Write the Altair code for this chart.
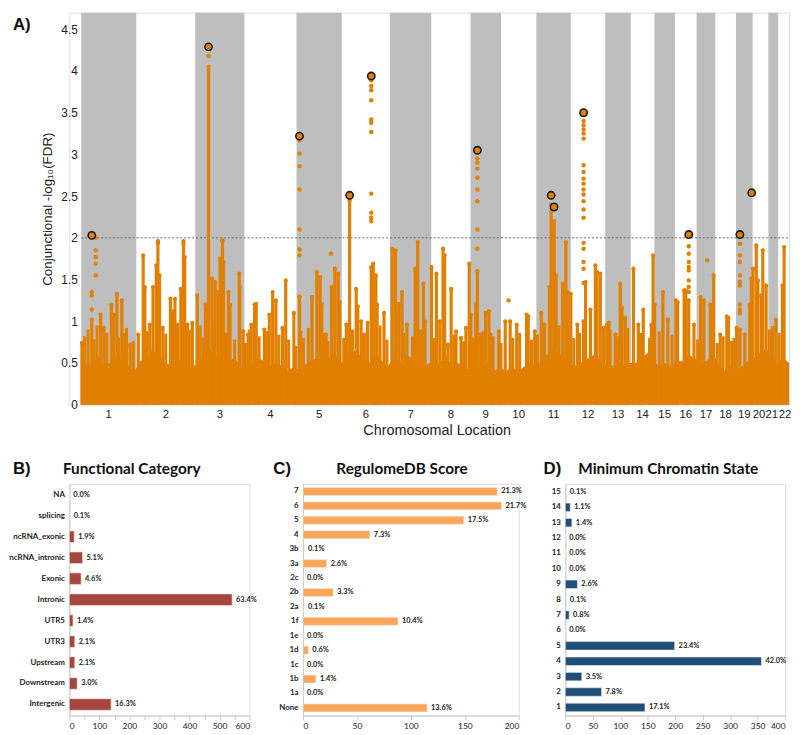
import altair as alt
import pandas as pd

ORANGE = "#E07F00"

# ---------------- Panel A data ----------------
chrom_names = [str(i) for i in range(1, 23)]
chrom_widths = [56, 60, 50, 53, 46, 49, 42, 40, 31, 36, 35, 35, 26, 24, 21, 22, 19, 21, 17, 16, 10, 11]

# dense background level (genome position units, -log10 FDR)
forest_pos = [0, 6, 12, 18, 24, 30, 36, 42, 48, 54,
              60, 66, 72, 78, 84, 90, 96, 102, 108, 114,
              120, 126, 132, 138, 144, 150, 156, 162,
              168, 174, 180, 186, 192, 198, 204, 210, 216,
              222, 228, 234, 240, 246, 252, 258, 264,
              270, 276, 282, 288, 294, 300, 306, 312,
              318, 324, 330, 336, 342, 348, 354,
              360, 366, 372, 378, 384, 390, 396,
              402, 408, 414, 420, 426,
              432, 438, 444, 450, 456, 462,
              468, 474, 480, 486, 492, 498,
              504, 510, 516, 522, 528, 534,
              540, 546, 552, 558,
              564, 570, 576, 582,
              588, 594, 600, 606,
              612, 618, 624, 630,
              636, 642, 648,
              654, 660, 666, 672,
              678, 684,
              690, 696, 702,
              708,
              714, 720]
forest_val = [0.62, 0.45, 0.52, 0.56, 0.48, 0.5, 0.6, 0.52, 0.45, 0.4,
              0.52, 0.56, 0.65, 0.62, 0.5, 0.48, 0.56, 0.52, 0.42, 0.46,
              0.52, 0.62, 0.66, 0.56, 0.6, 0.52, 0.56, 0.46,
              0.45, 0.5, 0.56, 0.52, 0.46, 0.5, 0.46, 0.4, 0.45,
              0.42, 0.48, 0.52, 0.56, 0.5, 0.56, 0.6, 0.5,
              0.52, 0.66, 0.6, 0.56, 0.5, 0.62, 0.52, 0.46,
              0.56, 0.5, 0.6, 0.56, 0.5, 0.45, 0.5,
              0.46, 0.52, 0.56, 0.46, 0.5, 0.4, 0.46,
              0.5, 0.45, 0.52, 0.4, 0.45,
              0.4, 0.46, 0.4, 0.45, 0.5, 0.45,
              0.52, 0.6, 0.66, 0.62, 0.56, 0.5,
              0.46, 0.52, 0.56, 0.6, 0.52, 0.46,
              0.46, 0.52, 0.46, 0.5,
              0.5, 0.56, 0.62, 0.52,
              0.46, 0.5, 0.46, 0.52,
              0.52, 0.6, 0.56, 0.5,
              0.52, 0.6, 0.5,
              0.4, 0.46, 0.4, 0.45,
              0.52, 0.56,
              0.62, 0.66, 0.6,
              0.5,
              0.56, 0.5]

# short columns in the dense band
mid_pos = [3.5, 7, 13, 16, 26, 38, 46, 53, 67, 86,
           110, 121, 124, 147, 156, 167, 171, 181, 189, 201,
           211, 226, 231, 247, 251, 267, 276, 286, 304, 311,
           328, 337, 345, 359, 379, 389, 399, 409, 419, 427,
           439, 446, 458, 464, 486, 501, 507, 538, 546, 556,
           569, 578, 588, 601, 627, 647, 653, 664, 700, 710]
mid_top = [0.82, 0.9, 0.78, 0.95, 0.86, 0.8, 0.92, 0.76, 0.88, 0.85,
           0.9, 0.95, 0.8, 0.86, 0.78, 0.74, 0.9, 0.82, 0.88, 0.84,
           0.78, 0.8, 0.92, 0.86, 0.76, 0.8, 0.9, 0.84, 0.95, 0.78,
           0.86, 0.82, 0.9, 0.8, 0.84, 0.76, 0.8, 0.88, 0.82, 0.74,
           0.8, 0.86, 0.78, 0.84, 0.95, 0.8, 0.86, 0.9, 0.82, 0.92,
           0.86, 0.8, 0.88, 0.84, 0.78, 0.74, 0.82, 0.8, 0.9, 0.86]

# columns of SNPs rising above the background
spike_pos = [0.7, 10.7, 19.7, 23, 30.7, 33, 36.3, 41.3, 43, 49.7, 58, 63, 64.7, 69.7, 73, 76.3, 78, 79.7,
             83, 90.7, 93, 95.3, 98, 101.3, 104, 105.3, 108, 113, 118, 126.3, 129.5,
             133, 134.7, 136.3, 139.7, 141.3, 143.7, 144.7, 149.7, 151.3, 160.7, 161.3, 164.7,
             169.7, 173, 176.3, 178, 186.3, 191.3, 194.7, 198, 204.7, 208, 216.3, 218, 222, 223,
             234.7, 239.7, 243, 244.7, 249, 254.7, 258, 261.3, 263, 269.7, 273, 279.7, 281.3,
             284.7, 288, 291.3, 295, 297, 299.7, 301, 308, 316.3, 319.7, 323, 326.3, 331.3,
             339.7, 342.3, 348, 349.7, 356.3, 361.3, 364.7, 368, 369.7, 373, 376.3, 381.3,
             386.3, 391.3, 394.7, 396.3, 401.3, 403, 406.3, 411.3, 414.7, 416.3, 424.7,
             431.3, 436.3, 443, 453, 454.7, 461.3, 468, 471.3, 476.3, 478, 481, 483, 489.7,
             493, 494.7, 498, 504.7, 511, 513, 518, 523, 524.7, 528, 531.3, 534.7,
             536.7, 543.3, 548.3, 550, 553.3, 561.7, 566.7, 571.7, 580, 581.7, 583.3, 591.7,
             596.7, 605, 606.7, 613.3, 615, 618, 623.3, 630, 633.3, 640, 643.3, 650, 656.7,
             658.3, 661.7, 666.7, 670, 675, 680, 681.7, 683.3, 686.7, 688.3, 691.7, 693.3,
             696.7, 703.3, 706.7, 713.3, 715, 717.7]
spike_top = [0.74, 1.02, 1.08, 0.92, 1.2, 1.08, 1.33, 1.25, 0.84, 0.72, 0.84, 1.79, 1.41, 0.96, 1.41, 1.67, 1.96, 1.55,
             0.92, 1.27, 1.12, 1.27, 0.96, 1.39, 1.96, 1.77, 0.96, 0.98, 1.31, 1.2, 4.05,
             1.51, 0.92, 1.47, 1.35, 1.75, 1.96, 1.71, 1.35, 1.2, 1.57, 1.41, 0.88,
             0.84, 0.96, 1.2, 1.21, 0.9, 1.08, 1.35, 1.25, 0.92, 1.49, 1.1, 0.68, 1.3, 0.86,
             1.29, 1.59, 1.53, 1.21, 0.84, 1.41, 1.63, 1.57, 1.23, 0.96, 2.45, 1.39, 1.18,
             1.0, 0.84, 0.98, 1.65, 1.69, 1.55, 1.2, 1.1, 1.87, 1.85, 1.21, 1.35, 0.96,
             1.63, 1.95, 1.45, 1.0, 1.65, 1.57, 1.0, 1.87, 1.79, 0.72, 1.39, 0.88,
             0.8, 0.92, 1.69, 1.08, 1.21, 1.6, 0.84, 1.1, 1.12, 0.84, 0.88,
             1.0, 1.0, 0.96, 1.08, 1.06, 0.88, 1.1, 0.96, 1.41, 2.4, 2.2, 1.55, 1.45,
             1.95, 1.35, 1.33, 0.96, 1.0, 1.47, 1.14, 1.67, 1.59, 1.57, 0.92, 0.96,
             0.98, 0.84, 1.45, 1.16, 1.04, 1.63, 0.96, 1.14, 0.96, 1.79, 1.2, 1.35,
             1.02, 1.25, 1.23, 1.37, 1.37, 1.25, 0.96, 1.29, 1.25, 1.2, 1.55, 0.84, 1.06,
             1.04, 0.74, 0.92, 0.9, 0.84, 1.2, 1.51, 1.63, 1.91, 1.49, 1.31, 1.85,
             1.43, 0.92, 1.02, 1.43, 1.89, 0.49]

# isolated SNPs above their columns
dot_pos = [14.7, 14.7, 14.7, 14.7, 14.7, 10.7, 10.7, 10.7,
           129.5, 104, 78, 143.7,
           222, 222, 222, 222, 222, 222, 222,
           295, 295, 295, 295, 295, 295, 295, 295, 295, 295, 295,
           403, 403, 403, 403, 403, 403, 403, 403,
           511, 511, 511, 511, 511, 511, 511, 511, 511, 511, 511, 511, 511, 511, 511, 511, 511, 511, 511,
           618, 618, 618, 618, 618, 618, 618, 618,
           670, 670, 670, 670, 670, 670, 670, 670, 670,
           434.7, 636.7, 254]
dot_val = [2.0, 1.85, 1.77, 1.69, 1.55, 1.35, 1.31, 1.14,
           4.18, 1.93, 1.94, 1.97,
           3.17, 3.01, 2.86, 2.58, 2.1, 1.86, 1.79,
           3.89, 3.82, 3.77, 3.65, 3.42, 3.38, 3.27, 2.53, 2.3, 2.24, 2.2,
           2.95, 2.9, 2.83, 2.72, 2.58, 2.44, 2.1, 1.87,
           3.4, 3.35, 3.3, 3.25, 3.19, 2.87, 2.79, 2.71, 2.65, 2.58, 2.52, 2.44, 2.34, 2.24, 1.94, 1.87, 1.71, 1.63, 1.46,
           1.9, 1.81, 1.71, 1.65, 1.61, 1.49, 1.41, 1.35,
           1.93, 1.79, 1.71, 1.55, 1.47, 1.43, 1.2, 1.14, 1.1,
           1.25, 1.73, 1.81]

# lead SNPs (outlined)
lead_pos = [10.7, 129.5, 222, 273, 295, 403, 478, 481, 511, 618, 670, 682]
lead_val = [2.03, 4.29, 3.22, 2.51, 3.94, 3.05, 2.51, 2.37, 3.5, 2.04, 2.04, 2.54]

threshold = [2.0]
y_ticks = [0, 0.5, 1, 1.5, 2, 2.5, 3, 3.5, 4, 4.5]

# ---------------- Panels B-D data ----------------
func_cats = ["NA", "splicing", "ncRNA_exonic", "ncRNA_intronic", "Exonic", "Intronic",
             "UTR5", "UTR3", "Upstream", "Downstream", "Intergenic"]
func_counts = [0, 1, 16, 44, 39, 542, 12, 18, 18, 26, 139]
func_pcts = ["0.0%", "0.1%", "1.9%", "5.1%", "4.6%", "63.4%", "1.4%", "2.1%", "2.1%", "3.0%", "16.3%"]

reg_cats = ["7", "6", "5", "4", "3b", "3a", "2c", "2b", "2a", "1f", "1e", "1d", "1c", "1b", "1a", "None"]
reg_counts = [180, 184, 149, 62, 1, 22, 0, 28, 1, 88, 0, 5, 0, 12, 0, 115]
reg_pcts = ["21.3%", "21.7%", "17.5%", "7.3%", "0.1%", "2.6%", "0.0%", "3.3%", "0.1%", "10.4%",
            "0.0%", "0.6%", "0.0%", "1.4%", "0.0%", "13.6%"]

state_cats = ["15", "14", "13", "12", "11", "10", "9", "8", "7", "6", "5", "4", "3", "2", "1"]
state_counts = [1, 9, 12, 0, 0, 0, 22, 1, 7, 0, 199, 357, 30, 66, 145]
state_pcts = ["0.1%", "1.1%", "1.4%", "0.0%", "0.0%", "0.0%", "2.6%", "0.1%", "0.8%", "0.0%",
              "23.4%", "42.0%", "3.5%", "7.8%", "17.1%"]

# ---------------- Panel A ----------------
LEFT = 57          # room left of every panel's origin (letters / labels)
A_W, A_H = 727, 396
A_GAP = 12         # empty strip between panel origin and first chromosome
total_units = sum(chrom_widths)
starts, s = [], 0
for w in chrom_widths:
    starts.append(s)
    s += w
chr_df = pd.DataFrame({
    "name": chrom_names,
    "start": starts,
    "end": [a + w for a, w in zip(starts, chrom_widths)],
    "mid": [a + w / 2 for a, w in zip(starts, chrom_widths)],
    "odd": [i % 2 == 0 for i in range(len(chrom_names))],
})
x_lo = -A_GAP * total_units / (A_W - A_GAP)
xs = alt.Scale(domain=[x_lo, total_units], nice=False, zero=False, padding=0)
ys = alt.Scale(domain=[0, 4.7], nice=False)
y_axis = alt.Axis(title="Conjunctional -log\u2081\u2080(FDR)", values=y_ticks, format="~g", ticks=False,
                  domain=False, grid=False, labelFontSize=12, labelColor="#222", labelPadding=4,
                  labelFont="Liberation Sans", titleFont="Liberation Sans", titleFontSize=13.5,
                  titleFontWeight="normal", titleColor="#222", titlePadding=6, offset=-A_GAP)


def X(field):
    return alt.X(field, scale=xs, axis=None)


def Y(field):
    return alt.Y(field, scale=ys, axis=y_axis)


bands = alt.Chart(chr_df).transform_filter("datum.odd").mark_rect(color="#BEBEBE").encode(
    x=X("start:Q"), x2="end:Q", y=alt.value(0), y2=alt.value(A_H))

thr_df = pd.DataFrame({"t": threshold, "x0": [0], "x1": [total_units]})
thr = alt.Chart(thr_df).mark_rule(
    color="#666", strokeDash=[2, 2], strokeWidth=1).encode(
    y=Y("t:Q"), x=X("x0:Q"), x2="x1:Q")

forest = alt.Chart(pd.DataFrame({"u": forest_pos, "v": forest_val})).mark_area(
    color=ORANGE, interpolate="linear").encode(x=X("u:Q"), y=Y("v:Q"))

mids = alt.Chart(pd.DataFrame({"u": mid_pos, "v": mid_top})).mark_rule(
    color=ORANGE, strokeWidth=3).encode(x=X("u:Q"), y=Y("v:Q"), y2=alt.datum(0))

spk_df = pd.DataFrame({"u": spike_pos, "v": spike_top})
spikes = alt.Chart(spk_df).mark_rule(color=ORANGE, strokeWidth=3.2).encode(
    x=X("u:Q"), y=Y("v:Q"), y2=alt.datum(0))
spk_tops = alt.Chart(spk_df).mark_circle(color=ORANGE, size=18, opacity=1).encode(x=X("u:Q"), y=Y("v:Q"))

dots = alt.Chart(pd.DataFrame({"u": dot_pos, "v": dot_val})).mark_circle(
    color=ORANGE, size=20, opacity=1).encode(x=X("u:Q"), y=Y("v:Q"))

leads = alt.Chart(pd.DataFrame({"u": lead_pos, "v": lead_val})).mark_point(
    shape="circle", filled=True, fill=ORANGE, stroke="#1a1a1a", strokeWidth=1.6, size=55, opacity=1).encode(
    x=X("u:Q"), y=Y("v:Q"))


def chr_text(names, dx):
    return alt.Chart(chr_df).transform_filter(
        alt.FieldOneOfPredicate(field="name", oneOf=names)).mark_text(
        fontSize=11.5, font="Liberation Sans", color="#222", baseline="middle", dx=dx).encode(
        x=X("mid:Q"), y=alt.value(A_H + 10), text="name:N")


chr_labels_main = chr_text(chrom_names[:19], 0)
chr_labels_20 = chr_text(["20"], -1.5)
chr_labels_21 = chr_text(["21"], -1.5)
chr_labels_22 = chr_text(["22"], 1.5)

x_title = alt.Chart(pd.DataFrame({"t": ["Chromosomal Location"]})).mark_text(
    fontSize=14.5, font="Liberation Sans", color="#222", baseline="middle").encode(
    x=alt.value((A_W + A_GAP) / 2 + 2), y=alt.value(A_H + 27), text="t:N")

a_label = alt.Chart(pd.DataFrame({"t": ["A)"]})).mark_text(
    fontSize=17, fontWeight="bold", font="Liberation Sans", align="left", baseline="top", color="#111").encode(
    x=alt.value(-LEFT), y=alt.value(5), text="t:N")

panelA = alt.layer(bands, thr, forest, mids, spikes, spk_tops, dots, leads,
                   chr_labels_main, chr_labels_20, chr_labels_21, chr_labels_22, x_title, a_label).properties(
    width=A_W, height=A_H)


# ---------------- Panels B-D ----------------
def bar_panel(cats, counts, pcts, color, title, letter, xmax, width, letter_x, title_x):
    df = pd.DataFrame({"cat": cats, "n": counts, "lab": pcts})
    yenc = alt.Y("cat:N", sort=cats,
                 scale=alt.Scale(paddingInner=0.45, paddingOuter=0.25),
                 axis=alt.Axis(title=None, labelFont="Lato", labelFontWeight="bold", labelFontSize=8,
                               labelColor="#222", ticks=False, domainColor="#C8C8C8", labelPadding=5))
    xenc = alt.X("n:Q", scale=alt.Scale(domain=[0, xmax], nice=False),
                 axis=alt.Axis(title=None, values=list(range(0, xmax + 1, 50)), grid=False,
                               labelFont="Lato", labelFontSize=8.5, labelColor="#222",
                               tickColor="#C8C8C8", domainColor="#C8C8C8", tickSize=4))
    bars = alt.Chart(df).mark_bar(color=color, stroke="#F2E6E4", strokeWidth=0.6).encode(x=xenc, y=yenc)
    txt = alt.Chart(df).mark_text(align="left", dx=4, font="Lato", fontSize=7.5, fontWeight="bold",
                                  color="#222").encode(x=xenc, y=yenc, text="lab:N")
    let = alt.Chart(pd.DataFrame({"t": [letter]})).mark_text(
        fontSize=17, fontWeight="bold", font="Liberation Sans", align="left", baseline="middle",
        color="#111").encode(x=alt.value(letter_x), y=alt.value(-15), text="t:N")
    ttl = alt.Chart(pd.DataFrame({"t": [title]})).mark_text(
        fontSize=15.5, fontWeight="bold", font="Lato", align="center", baseline="middle",
        color="#111").encode(x=alt.value(title_x), y=alt.value(-15), text="t:N")
    return alt.layer(bars, txt, let, ttl).properties(width=width, height=234)


panelB = bar_panel(func_cats, func_counts, func_pcts, "#A5473F", "Functional Category", "B)",
                   600, 182, -LEFT, 63)
panelC = bar_panel(reg_cats, reg_counts, reg_pcts, "#F9A65A", "RegulomeDB Score", "C)",
                   200, 218, -30, 100)
panelD = bar_panel(state_cats, state_counts, state_pcts, "#1F4E79", "Minimum Chromatin State", "D)",
                   400, 222, -22, 104)

bottom = alt.hconcat(panelB, panelC, panelD, spacing=15)

chart = alt.vconcat(panelA, bottom, spacing=21).configure_view(stroke=None).configure(
    background="white").properties(padding={"left": 0, "top": 0, "right": 0, "bottom": 0})

chart.save("out.html", embed_options={"renderer": "svg", "actions": False})
